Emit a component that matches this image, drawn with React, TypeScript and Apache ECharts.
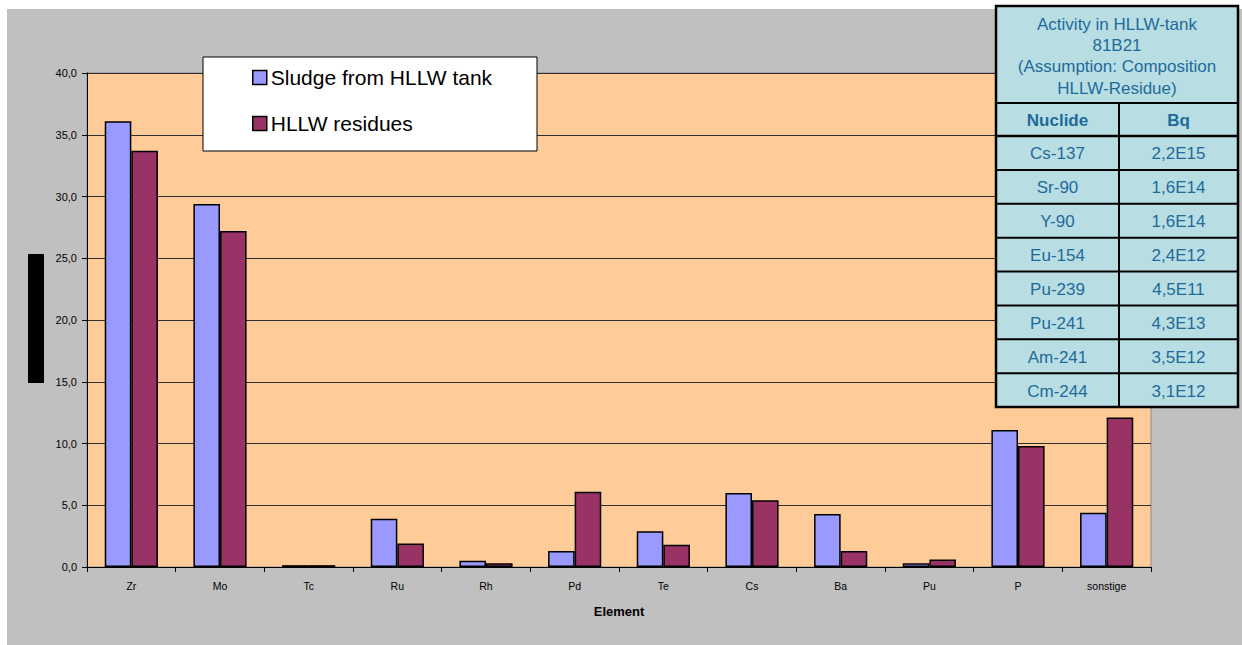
import React, { useEffect, useRef } from "react";
import * as echarts from "echarts";

const categories = ["Zr", "Mo", "Tc", "Ru", "Rh", "Pd", "Te", "Cs", "Ba", "Pu", "P", "sonstige"];
const sludge = [36.1, 29.4, 0.15, 3.9, 0.5, 1.3, 2.9, 6.0, 4.3, 0.3, 11.1, 4.4];
const residues = [33.7, 27.2, 0.15, 1.9, 0.3, 6.1, 1.8, 5.4, 1.3, 0.6, 9.8, 12.1];
const seriesNames = ["Sludge from HLLW tank", "HLLW residues"];

const tableTitle = ["Activity in HLLW-tank", "81B21", "(Assumption: Composition", "HLLW-Residue)"];
const tableHeader = ["Nuclide", "Bq"];
const nuclides = ["Cs-137", "Sr-90", "Y-90", "Eu-154", "Pu-239", "Pu-241", "Am-241", "Cm-244"];
const bqValues = ["2,2E15", "1,6E14", "1,6E14", "2,4E12", "4,5E11", "4,3E13", "3,5E12", "3,1E12"];

const FONT = "'Liberation Sans', Arial, sans-serif";

function buildTable() {
  const x0 = 996, x1 = 1238, y0 = 6, y1 = 407;
  const colX = 1119;
  const titleBottom = 103;
  const headerBottom = 136;
  const rowH = (y1 - headerBottom) / nuclides.length;
  const fill = "#B8DEE3";
  const textColor = "#1F6A9A";
  const els: any[] = [];
  els.push({
    type: "rect",
    z: 10,
    shape: { x: x0, y: y0, width: x1 - x0, height: y1 - y0 },
    style: { fill, stroke: "#000", lineWidth: 2.5 },
  });
  const hLines = [titleBottom, headerBottom];
  for (let i = 1; i < nuclides.length; i++) hLines.push(headerBottom + rowH * i);
  hLines.forEach((y) =>
    els.push({
      type: "line",
      z: 11,
      shape: { x1: x0, y1: y, x2: x1, y2: y },
      style: { stroke: "#000", lineWidth: y === headerBottom ? 2.5 : 2 },
    })
  );
  els.push({
    type: "line",
    z: 11,
    shape: { x1: colX, y1: titleBottom, x2: colX, y2: y1 },
    style: { stroke: "#000", lineWidth: 2 },
  });
  const cx = (x0 + x1) / 2;
  tableTitle.forEach((t, i) =>
    els.push({
      type: "text",
      z: 12,
      x: cx,
      y: 24 + i * 21.4,
      style: { text: t, fill: textColor, font: `17px ${FONT}`, textAlign: "center", textVerticalAlign: "middle" },
    })
  );
  const c1 = (x0 + colX) / 2;
  const c2 = (colX + x1) / 2;
  const hy = (titleBottom + headerBottom) / 2 + 1;
  els.push({
    type: "text", z: 12, x: c1, y: hy,
    style: { text: tableHeader[0], fill: textColor, font: `bold 17px ${FONT}`, textAlign: "center", textVerticalAlign: "middle" },
  });
  els.push({
    type: "text", z: 12, x: c2, y: hy,
    style: { text: tableHeader[1], fill: textColor, font: `bold 17px ${FONT}`, textAlign: "center", textVerticalAlign: "middle" },
  });
  nuclides.forEach((n, i) => {
    const y = headerBottom + rowH * (i + 0.5) + 1;
    els.push({
      type: "text", z: 12, x: c1, y,
      style: { text: n, fill: textColor, font: `17px ${FONT}`, textAlign: "center", textVerticalAlign: "middle" },
    });
    els.push({
      type: "text", z: 12, x: c2, y,
      style: { text: bqValues[i], fill: textColor, font: `17px ${FONT}`, textAlign: "center", textVerticalAlign: "middle" },
    });
  });
  return els;
}

export default function App() {
  const ref = useRef<HTMLDivElement>(null);
  useEffect(() => {
    if (!ref.current) return;
    const chart = echarts.init(ref.current, undefined, { renderer: "svg" });
    const option: any = {
      animation: false,
      backgroundColor: "transparent",
      textStyle: { fontFamily: FONT },
      grid: {
        left: 87,
        right: 91,
        top: 73,
        bottom: 78,
        show: true,
        backgroundColor: "#FFCC99",
        borderColor: "#8C8C8C",
        borderWidth: 1,
        containLabel: false,
      },
      legend: {
        orient: "vertical",
        left: 252,
        top: 67,
        padding: 0,
        itemWidth: 14,
        itemHeight: 14,
        itemGap: 25,
        icon: "rect",
        z: 20,
        itemStyle: { borderColor: "#000", borderWidth: 1.5 },
        textStyle: { fontSize: 21, lineHeight: 20, color: "#000", fontFamily: FONT, padding: [0, 0, 0, -1] },
        data: seriesNames,
      },
      xAxis: {
        type: "category",
        data: categories,
        name: "Element",
        nameLocation: "middle",
        nameGap: 38,
        nameTextStyle: { fontSize: 13, fontWeight: "bold", color: "#000", fontFamily: FONT },
        axisLine: { show: true, lineStyle: { color: "#000", width: 1 } },
        axisTick: { show: true, length: 5, lineStyle: { color: "#000" } },
        axisLabel: { fontSize: 10.5, color: "#000", margin: 13, fontFamily: FONT },
        splitLine: { show: false },
      },
      yAxis: {
        type: "value",
        min: 0,
        max: 40,
        interval: 5,
        axisLine: { show: true, lineStyle: { color: "#000", width: 1 } },
        axisTick: { show: true, length: 5, lineStyle: { color: "#000" } },
        axisLabel: {
          fontSize: 11,
          color: "#000",
          margin: 10,
          fontFamily: FONT,
          formatter: (v: number) => v.toFixed(1).replace(".", ","),
        },
        splitLine: { show: true, lineStyle: { color: "#2e2e2e", width: 1 } },
      },
      series: [
        {
          name: seriesNames[0],
          type: "bar",
          data: sludge,
          barGap: "0%",
          barCategoryGap: "40%",
          itemStyle: { color: "#9999FF", borderColor: "#000", borderWidth: 1.5 },
        },
        {
          name: seriesNames[1],
          type: "bar",
          data: residues,
          barGap: "0%",
          barCategoryGap: "40%",
          itemStyle: { color: "#993366", borderColor: "#000", borderWidth: 1.5 },
        },
      ],
      graphic: [
        {
          type: "rect",
          z: 15,
          shape: { x: 203, y: 57, width: 334, height: 94 },
          style: { fill: "#FFFFFF", stroke: "#000", lineWidth: 1 },
        },
        {
          type: "rect",
          z: 15,
          shape: { x: 28, y: 254, width: 16, height: 129 },
          style: { fill: "#000" },
        },
        ...buildTable(),
      ],
    };
    chart.setOption(option);
    return () => chart.dispose();
  }, []);
  return (
    <div style={{ position: "fixed", left: 0, top: 0, width: 1242, height: 645, background: "#FFFFFF" }}>
      <div style={{ position: "absolute", left: 7, top: 9, right: 0, bottom: 0, background: "#C0C0C0" }} />
      <div ref={ref} style={{ position: "absolute", left: 0, top: 0, width: 1242, height: 645 }} />
    </div>
  );
}
